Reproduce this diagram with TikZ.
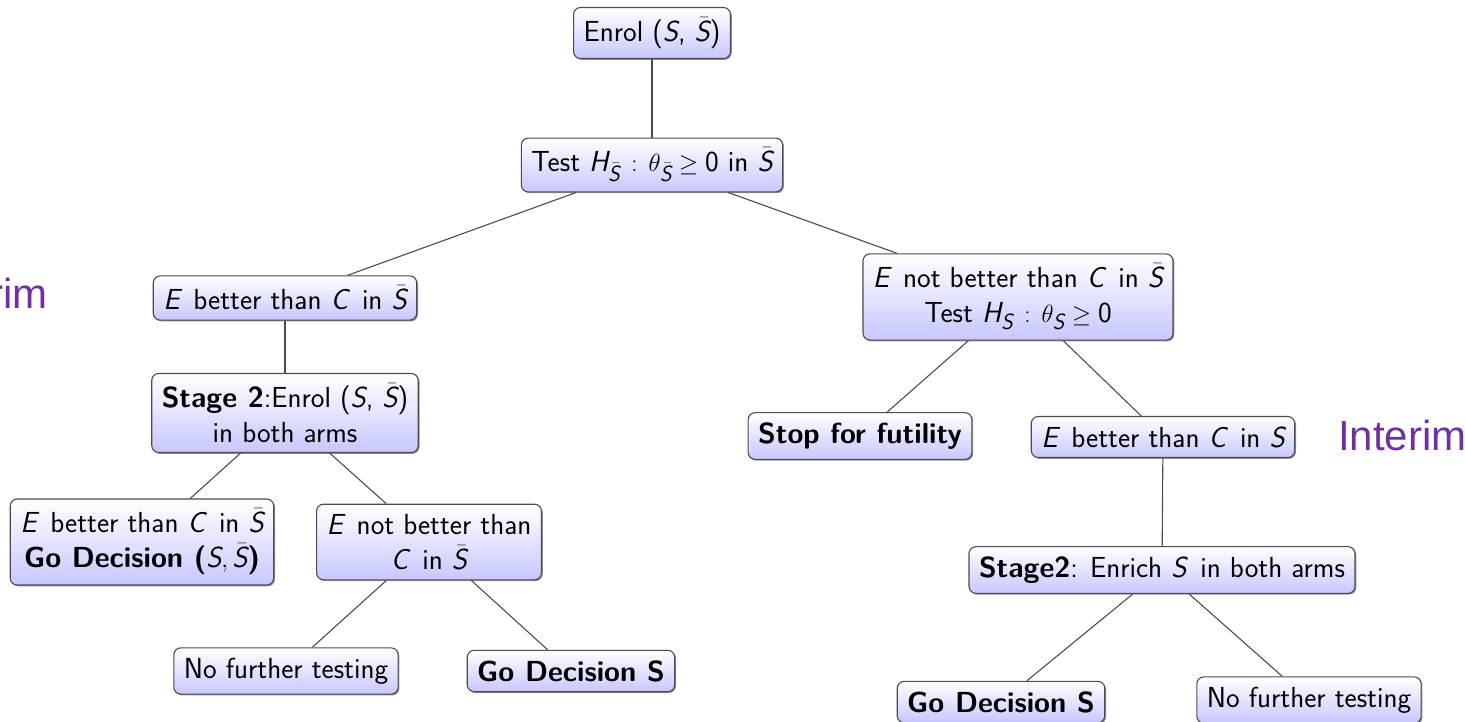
\documentclass[tikz,border=0pt]{standalone}
\usepackage{fontspec}
\newfontfamily\interimfont{Liberation Sans}
\usetikzlibrary{shadows}
\DeclareSymbolFont{sfit}{TU}{lmss}{m}{sl}
\DeclareMathSymbol{S}{\mathalpha}{sfit}{`S}
\DeclareMathSymbol{E}{\mathalpha}{sfit}{`E}
\DeclareMathSymbol{C}{\mathalpha}{sfit}{`C}
\DeclareMathSymbol{H}{\mathalpha}{sfit}{`H}
\DeclareMathSizes{29}{29}{22}{17}
\newcommand{\Sb}{\skew{3}{\bar}{S}}
\definecolor{interimcol}{RGB}{112,48,160}
\tikzset{
  box/.style={draw=black!70, line width=1.1pt, rounded corners=7pt,
    top color=white, bottom color=blue!22,
    drop shadow={shadow xshift=1.3pt, shadow yshift=-1.3pt, opacity=0.6, fill=black!70},
    inner xsep=10pt, inner ysep=10pt, align=center,
    font=\sffamily\fontsize{29}{35}\selectfont},
  link/.style={draw=black!70, line width=1.1pt},
  interimlabel/.style={font=\interimfont\fontsize{42}{48}\selectfont, text=interimcol, inner sep=0pt}
}
\begin{document}
\begin{tikzpicture}[x=1pt,y=-1pt]
\useasboundingbox (0,0) rectangle (1465,721);
\node[box] (a) at (652,33) {Enrol ($S$, $\Sb$)};
\node[box] (b) at (652,165) {Test $H_{\Sb} \,:\, \theta_{\Sb} \geq \mbox{0}$ in $\Sb$};
\node[box] (c) at (285,298) {$E$\, better than $C$\, in $\Sb$};
\node[box] (d) at (1018,297) {$E$\, not better than $C$\, in $\Sb$\\ Test $H_S \,:\, \theta_S \geq \mbox{0}$};
\node[box] (e) at (285,413) {\textbf{Stage 2}:Enrol ($S$, $\Sb$)\\ in both arms};
\node[box] (f) at (860,436) {\textbf{Stop for futility}};
\node[box] (g) at (1163,437) {$E$\, better than $C$\, in $S$};
\node[box] (h) at (142,542) {$E$\, better than $C$\, in $\Sb$\\ \textbf{Go Decision (}$S,\Sb$\textbf{)}};
\node[box] (i) at (429,542) {$E$\, not better than\\ $C$\, in $\Sb$};
\node[box] (j) at (286,671) {No further testing};
\node[box] (k) at (571,671) {\textbf{Go Decision S}};
\node[box] (l) at (1162,570) {\textbf{Stage2}: Enrich $S$\, in both arms};
\node[box] (m) at (1001,702) {\textbf{Go Decision S}};
\node[box] (n) at (1309,700) {No further testing};
\node[interimlabel, anchor=base east] (int1) at (48,308) {Interim};
\node[interimlabel, anchor=base west] (int2) at (1338,450) {Interim};
\draw[link] (a) -- (b);
\draw[link] (b) -- (c);
\draw[link] (b) -- (d);
\draw[link] (c) -- (e);
\draw[link] (e) -- (h);
\draw[link] (e) -- (i);
\draw[link] (i) -- (j);
\draw[link] (i) -- (k);
\draw[link] (d) -- (f);
\draw[link] (d) -- (g);
\draw[link] (g) -- (l);
\draw[link] (l) -- (m);
\draw[link] (l) -- (n);
\end{tikzpicture}
\end{document}
